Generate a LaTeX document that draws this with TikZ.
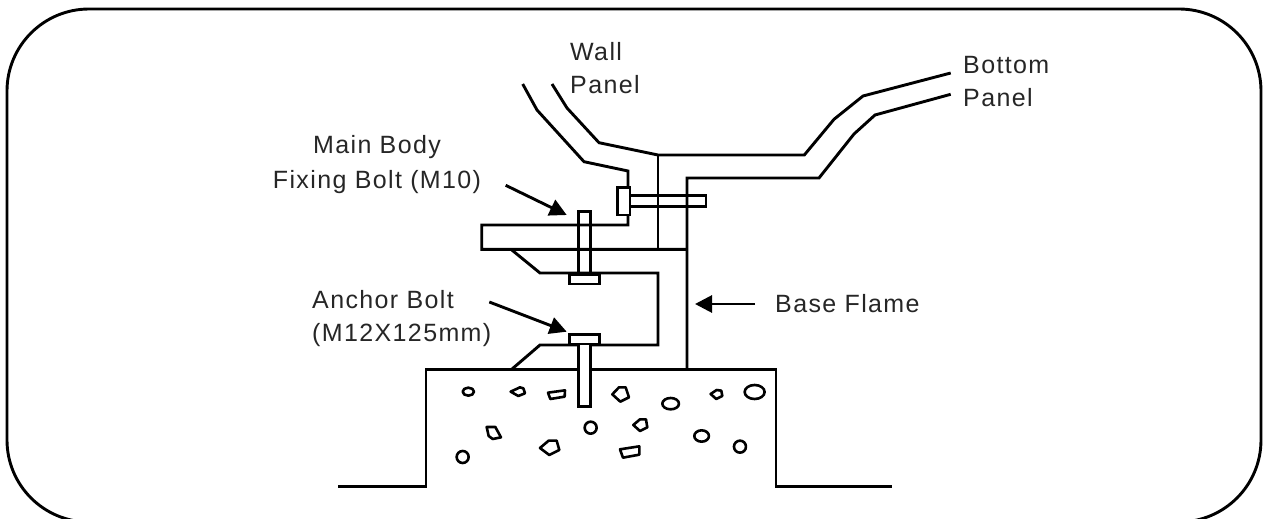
\documentclass[tikz,border=0pt]{standalone}
\usepackage{fontspec}
\setmainfont{Liberation Sans}
\usetikzlibrary{arrows.meta}
\tikzset{
  ln/.style={line width=2.9pt,line join=miter,black},
  stone/.style={line width=2.6pt,line join=round,black},
  lbl/.style={font=\fontsize{25}{33}\selectfont\addfontfeatures{LetterSpace=5.5},text=black!85,inner sep=0pt,align=left},
  ptr/.style={line width=2.9pt,-{Triangle[length=17pt,width=17pt]},shorten >=0pt}
}
\begin{document}
\begin{tikzpicture}[x=1pt,y=-1pt]
\useasboundingbox (0,0) rectangle (1267,519);
\begin{scope}
\clip (0,0) rectangle (1267,519);
\draw[ln,rounded corners=82pt] (7,9) rectangle (1261,522);
\end{scope}
% walls and panels
\draw[ln] (522.7,84) -- (537,110) -- (584,161.7) -- (628,171) -- (628,225) -- (481.7,225) -- (481.7,249.3) -- (687,249.3);
\draw[ln] (552,84) -- (567,108) -- (599,142.7) -- (658,155) -- (804.3,155) -- (834,119.3) -- (863,96) -- (950.7,73);
\draw[ln] (658,155) -- (658,249.3);
\draw[ln] (950.7,94.3) -- (875,115) -- (854,134) -- (819,178) -- (687,178) -- (687,369.3);
% brackets
\draw[ln] (511,249.3) -- (540,273) -- (658,273) -- (658,345) -- (540,345) -- (511.7,369.3);
% bolts
\draw[ln] (630,195.7) -- (706,195.7) -- (706,206.7) -- (630,206.7);
\draw[ln,fill=white] (617.3,187.7) rectangle (630,215);
\draw[ln] (578.3,274.3) -- (578.3,211.7) -- (590.7,211.7) -- (590.7,274.3);
\draw[ln,fill=white] (569.3,274.3) rectangle (599.3,284);
% foundation
\draw[ln] (338,486.7) -- (426,486.7) -- (426,369.3) -- (776,369.3) -- (776,486.7) -- (892,486.7);
\draw[ln,fill=white] (578.3,344) -- (578.3,406.7) -- (590.7,406.7) -- (590.7,344);
\draw[ln,fill=white] (569.3,334.3) rectangle (599.3,344);
% stones
\begin{scope}[shift={(420,370)},x=0.3333pt,y=-0.3333pt]
\draw[stone] (145,65) ellipse [x radius=17,y radius=12];
\draw[stone] (272,65) -- (300,52) -- (310,55) -- (315,70) -- (295,78) -- cycle;
\draw[stone] (384,68) -- (435,61) -- (434,80) -- (391,87) -- cycle;
\draw[stone] (577,73) -- (597,52) -- (617,52) -- (627,82) -- (601,95) -- cycle;
\draw[stone] (752,101) ellipse [x radius=25,y radius=17];
\draw[stone] (872,72) -- (890,60) -- (904,62) -- (907,78) -- (889,87) -- cycle;
\draw[stone] (1004,66) ellipse [x radius=30,y radius=21];
\draw[stone] (200,171) -- (226,171) -- (243,202) -- (218,207) -- (206,198) -- cycle;
\draw[stone] (360,234) -- (386,212) -- (410,212) -- (418,240) -- (388,255) -- cycle;
\draw[stone] (512,173) circle [radius=18];
\draw[stone] (640,165) -- (660,148) -- (678,148) -- (682,172) -- (660,183) -- cycle;
\draw[stone] (600,238) -- (658,229) -- (658,254) -- (609,263) -- cycle;
\draw[stone] (845,198) ellipse [x radius=22,y radius=17];
\draw[stone] (960,230) circle [radius=18];
\draw[stone] (128,261) circle [radius=18];
\end{scope}
% labels
\node[lbl,anchor=west] (wall) at (570,68) {Wall\\Panel};
\node[lbl,anchor=west] (bottom) at (963,82) {Bottom\\Panel};
\node[lbl,anchor=center,align=center,font=\fontsize{25}{35}\selectfont\addfontfeatures{LetterSpace=5.5}] (fix) at (377,165) {Main Body\\Fixing Bolt (M10)};
\node[lbl,anchor=west] (anchor) at (312,319) {Anchor Bolt\\(M12X125mm)};
\node[lbl,anchor=west] (base) at (775,304) {Base Flame};
% arrows
\coordinate (a1s) at (505.7,185.3); \coordinate (a1e) at (566.7,215);
\coordinate (a2s) at (489.3,302); \coordinate (a2e) at (566.7,331.7);
\coordinate (a3s) at (755,304); \coordinate (a3e) at (695,304);
\draw[ptr] (a1s) -- (a1e);
\draw[ptr] (a2s) -- (a2e);
\draw[ptr] (a3s) -- (a3e);
\end{tikzpicture}
\end{document}
